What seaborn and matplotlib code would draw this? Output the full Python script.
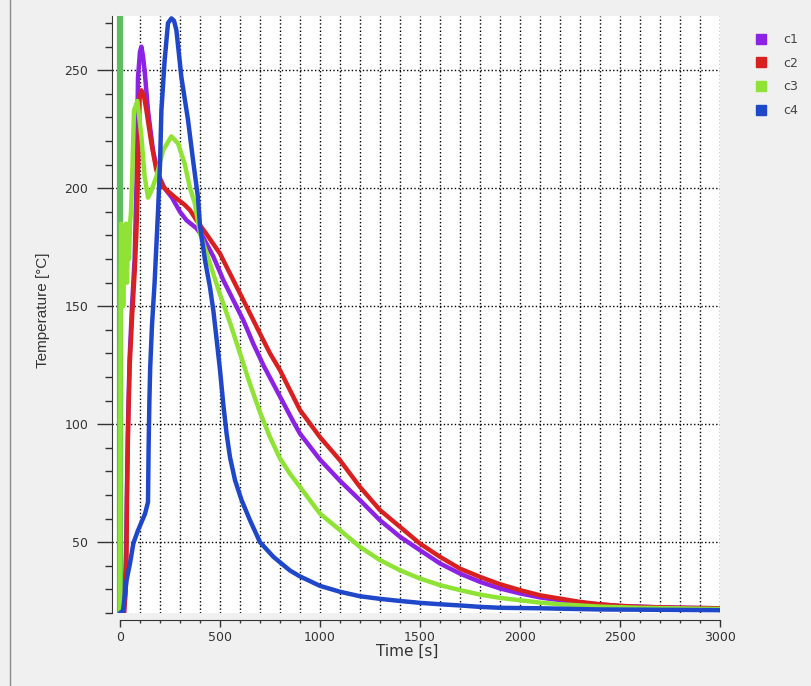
import pandas as pd
import seaborn as sns
import matplotlib.pyplot as plt
from matplotlib.ticker import MultipleLocator
from matplotlib.lines import Line2D

# values (time in s, temperature in degC)
c1_t = [0, 20, 30, 35, 40, 48, 60, 73, 82, 90, 100, 107, 115, 123, 140, 165, 190, 223,
        260, 300, 333, 383, 417, 467, 517, 567, 617, 667, 717, 767, 817, 867, 900,
        1000, 1100, 1200, 1300, 1400, 1500, 1600, 1700, 1800, 1900, 2000, 2100, 2200,
        2300, 2400, 2500, 2700, 3000]
c1_y = [20, 20, 45, 75, 100, 128, 150, 170, 200, 247, 258, 260, 256, 250, 233, 216, 206, 200,
        196, 190, 186.4, 183, 179, 171, 161, 152.5, 144, 134, 125, 117, 109, 101, 96,
        85, 76, 67.8, 59.3, 52.3, 46.6, 41, 36.7, 33.2, 30.4, 28.3, 26.6, 25.4,
        24.4, 23.6, 23, 22.4, 22]

c2_t = [0, 20, 28, 32, 35, 40, 48, 60, 73, 82, 87, 98, 107, 120, 132, 157, 182, 215, 273,
        323, 350, 383, 442, 500, 550, 600, 650, 700, 750, 800, 850, 900, 1000, 1100, 1200,
        1300, 1400, 1500, 1600, 1700, 1800, 1900, 2000, 2100, 2200, 2300, 2400, 2500,
        2600, 2800, 3000]
c2_y = [20, 20, 28, 40, 68, 96, 124, 145, 164, 181, 195, 238, 241.5, 239, 233, 219, 207.6,
        200.6, 196.3, 193, 190.7, 186.4, 179.4, 172.3, 163.8, 155.4, 146.9, 138.4, 130,
        122.9, 114.4, 106, 94.5, 84.7, 73.4, 63.6, 56.5, 49.4, 43.8, 38.8, 35.3, 32.2,
        29.7, 27.5, 26.1, 24.7, 23.7, 23, 22.6, 22.2, 22]

c3_t = [0, 3, 6, 9, 12, 16, 20, 25, 30, 35, 40, 45, 50, 55, 60, 70, 87, 107, 123, 140, 157,
        182, 215, 257, 290, 323, 350, 373, 400, 450, 500, 550, 600, 650, 700, 750, 800,
        850, 900, 1000, 1100, 1200, 1300, 1400, 1500, 1600, 1700, 1800, 1900, 2000, 2100,
        2200, 2300, 2400, 2600, 3000]
c3_y = [20, 150, 185, 160, 180, 150, 175, 165, 185, 160, 180, 170, 185, 190, 202, 233, 237,
        222, 205, 196, 199, 205, 216, 222, 219, 210.5, 200, 194, 181, 168, 155, 143,
        130, 117, 105, 94.5, 85.5, 79, 73.4, 62.1, 55.1, 48, 42.4, 38.1, 34.6, 31.8,
        29.7, 27.8, 26.4, 25.4, 24.4, 23.7, 23.2, 22.7, 22.2, 21.7]

c4_t = [0, 15, 33, 50, 67, 90, 110, 125, 140, 143, 147, 151, 160, 173, 190, 200, 207, 223,
        240, 257, 270, 282, 307, 340, 365, 390, 400, 425, 450, 467, 483, 500, 517, 533,
        550, 575, 608, 650, 700, 767, 850, 900, 1000, 1100, 1200, 1300, 1400, 1500, 1600,
        1700, 1800, 1900, 2100, 2400, 3000]
c4_y = [20, 21, 34, 41, 49.6, 55, 59, 62, 67, 90, 110, 124, 142, 160, 190, 210, 233, 254,
        270, 272, 271, 267, 247, 229, 212, 196, 184, 169.5, 158, 148, 136, 123, 108, 96,
        86, 76.3, 67.8, 59.3, 50, 43.8, 38, 35.5, 31.5, 29, 27.1, 26, 25.1, 24.3, 23.7,
        23.2, 22.6, 22.2, 22, 21.5, 21.2]

curve_names = ['c1', 'c2', 'c3', 'c4']
curve_colors = ['#8B22E5', '#D91F1F', '#8EE335', '#1F47C9']
cursor_t = 0

frames = []
for name, t, y in zip(curve_names, [c1_t, c2_t, c3_t, c4_t], [c1_y, c2_y, c3_y, c4_y]):
    frames.append(pd.DataFrame({'time': t, 'temp': y, 'curve': name}))
df = pd.concat(frames, ignore_index=True)

sns.set_style('white')
plt.rcParams['font.family'] = ['DejaVu Sans']

fig = plt.figure(figsize=(8.12, 6.86), dpi=100, facecolor='#f0f0f0')
ax = fig.add_axes([112 / 812, 1 - 613 / 686, 608 / 812, 597 / 686])
ax.set_facecolor('white')

ax.axvline(cursor_t, color='#5DBE5D', lw=4.5, zorder=1.5)
sns.lineplot(data=df, x='time', y='temp', hue='curve', palette=dict(zip(curve_names, curve_colors)),
             linewidth=3.2, estimator=None, sort=False, ax=ax, legend=False, zorder=2)

ax.set_xlim(-40, 3000)
ax.set_ylim(20, 273)

ax.xaxis.set_major_locator(MultipleLocator(500))
ax.xaxis.set_minor_locator(MultipleLocator(100))
ax.yaxis.set_major_locator(MultipleLocator(50))
ax.yaxis.set_minor_locator(MultipleLocator(10))

ax.grid(which='both', axis='x', linestyle=':', color='black', linewidth=1)
ax.grid(which='major', axis='y', linestyle=':', color='black', linewidth=1)
ax.set_axisbelow(True)

for side in ['top', 'right']:
    ax.spines[side].set_visible(False)
ax.spines['left'].set_color('#333333')
ax.spines['bottom'].set_color('#333333')
ax.spines['bottom'].set_position(('outward', 5))
ax.spines['bottom'].set_bounds(0, 3000)

ax.tick_params(axis='x', which='major', direction='out', length=5, width=1, color='#333333',
               labelsize=9, labelcolor='#333333', pad=3, bottom=True)
ax.tick_params(axis='x', which='minor', direction='out', length=2.5, width=1, color='#333333', bottom=True)
ax.tick_params(axis='y', which='major', direction='out', length=11, width=1, color='#333333',
               labelsize=9, labelcolor='#333333', pad=6, left=True)
ax.tick_params(axis='y', which='minor', direction='out', length=5, width=1, color='#333333', left=True)

ax.set_xlabel('Time [s]', fontsize=11, color='#333333')
ax.xaxis.set_label_coords(0.485, -0.051)
ax.set_ylabel('Temperature [°C]', fontsize=11, color='#333333',
              family=['Liberation Sans', 'DejaVu Sans'], ha='center', va='center')
ax.yaxis.set_label_coords((43 - 112) / 608, (613 - 310) / 597)

handles = [Line2D([], [], marker='s', linestyle='', markersize=7.5, color=c) for c in curve_colors]
fig.legend(handles, curve_names, loc='upper left', bbox_to_anchor=(755 / 812, 1 - 33 / 686),
           frameon=False, fontsize=9, labelcolor='#444444', labelspacing=0.85,
           handlelength=1.0, handletextpad=1.3, borderpad=0, borderaxespad=0)

fig.add_artist(Line2D([10 / 812, 10 / 812], [0, 1], transform=fig.transFigure, color='#8a8a8a', lw=1))

fig.savefig('out.png', dpi=100, facecolor=fig.get_facecolor())
